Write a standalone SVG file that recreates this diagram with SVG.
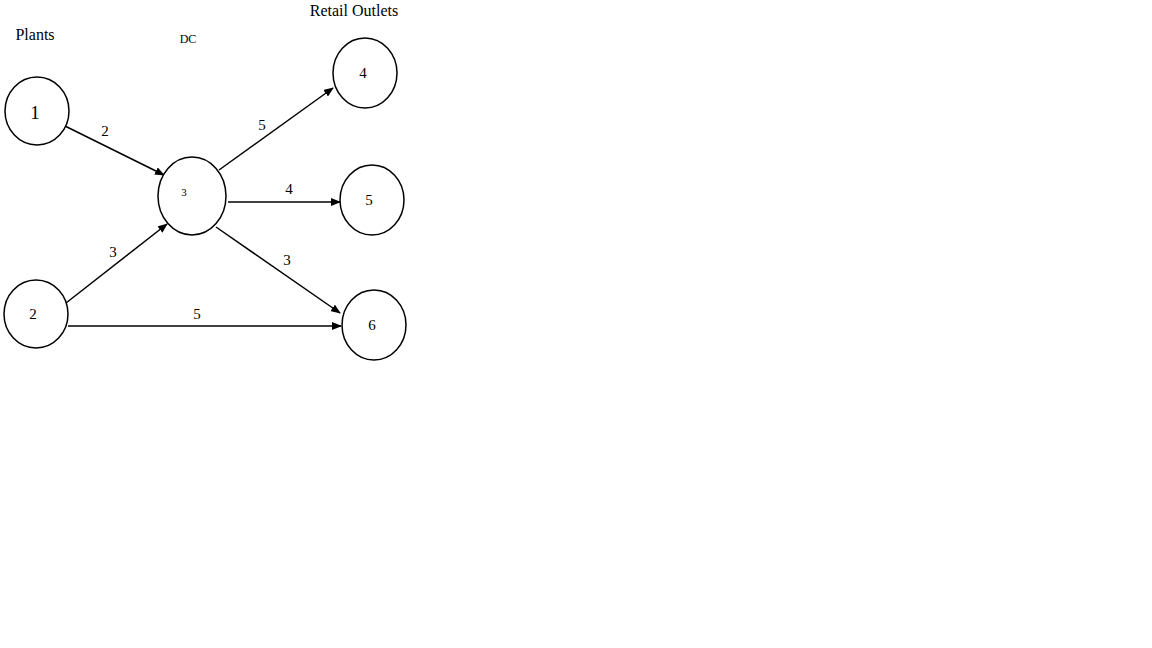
<svg xmlns="http://www.w3.org/2000/svg" width="1152" height="648" viewBox="0 0 1152 648">
<defs><marker id="ah" markerWidth="10" markerHeight="8" refX="9" refY="4" orient="auto" markerUnits="userSpaceOnUse"><path d="M0,0 L10,4 L0,8 z" fill="#000"/></marker></defs>
<style>
text{font-family:"Liberation Serif",serif;fill:#000;text-anchor:middle}
ellipse{fill:#fff;stroke:#000;stroke-width:1.5}
.c line{stroke:#000;stroke-width:1.5;marker-end:url(#ah)}
</style>
<rect width="1152" height="648" fill="#fff"/>
<text x="35" y="40" font-size="16">Plants</text>
<text x="188" y="43" font-size="12">DC</text>
<text x="354" y="16" font-size="16">Retail Outlets</text>
<g class="c" id="connectors">
<line x1="65" y1="126" x2="164" y2="175"/>
<line x1="66" y1="303" x2="167" y2="224"/>
<line x1="219" y1="170" x2="333" y2="88"/>
<line x1="228" y1="202" x2="340" y2="202"/>
<line x1="216" y1="227" x2="340" y2="313"/>
<line x1="68" y1="326" x2="341" y2="326"/>
<text x="105" y="136" font-size="15">2</text>
<text x="113" y="257" font-size="15">3</text>
<text x="262" y="130" font-size="15">5</text>
<text x="289" y="194" font-size="15">4</text>
<text x="287" y="265" font-size="15">3</text>
<text x="197" y="319" font-size="15">5</text>
</g>
<g id="n1"><ellipse cx="37" cy="111" rx="32" ry="34"/><text x="35" y="119" font-size="19">1</text></g>
<g id="n2"><ellipse cx="36" cy="314" rx="32" ry="34"/><text x="33" y="319" font-size="15">2</text></g>
<g id="n3"><ellipse cx="192" cy="196" rx="34" ry="39"/><text x="184" y="196" font-size="11">3</text></g>
<g id="n4"><ellipse cx="365" cy="73" rx="32" ry="35"/><text x="363" y="78" font-size="15">4</text></g>
<g id="n5"><ellipse cx="372" cy="200" rx="32" ry="35"/><text x="369" y="205" font-size="15">5</text></g>
<g id="n6"><ellipse cx="374" cy="325" rx="32" ry="35"/><text x="372" y="330" font-size="15">6</text></g>
</svg>
